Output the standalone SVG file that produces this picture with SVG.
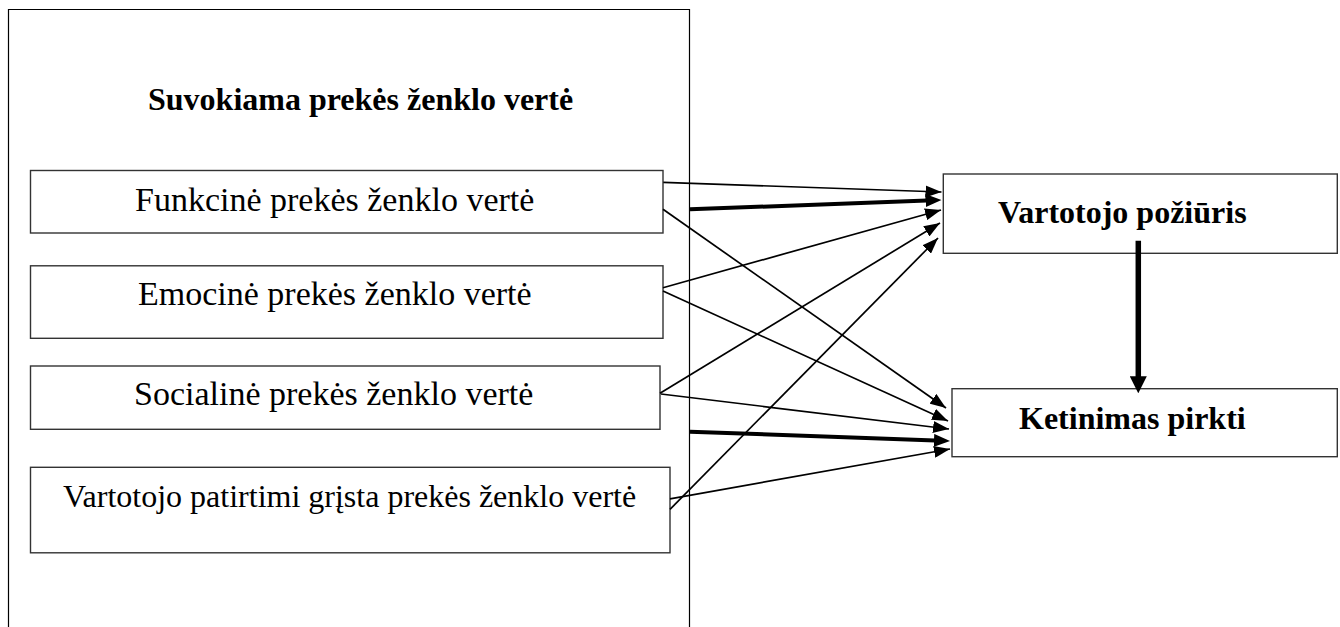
<svg xmlns="http://www.w3.org/2000/svg" width="1340" height="627" viewBox="0 0 1340 627">
  <style>
    .frame { fill: none; stroke: #000; stroke-width: 1.2; }
    .box { fill: #fff; stroke: #333; stroke-width: 1.4; }
    .lbl { font-family: "Liberation Serif", "Times New Roman", serif; font-size: 32px; fill: #000; }
    .big { font-size: 34px; }
    .bold { font-weight: bold; }
    .thin { stroke: #000; stroke-width: 1.7; fill: none; marker-end: url(#head); }
    .thick { stroke: #000; stroke-width: 4; fill: none; marker-end: url(#headThick); }
    .vert { stroke: #000; stroke-width: 5.5; fill: none; marker-end: url(#headVert); }
  </style>
  <defs>
    <marker id="head" markerUnits="userSpaceOnUse" markerWidth="16" markerHeight="12" refX="16" refY="6" orient="auto">
      <path d="M0,0 L16,6 L0,12 z" fill="#000"/>
    </marker>
    <marker id="headThick" markerUnits="userSpaceOnUse" markerWidth="16" markerHeight="13" refX="8" refY="6.5" orient="auto">
      <path d="M0,0 L16,6.5 L0,13 z" fill="#000"/>
    </marker>
    <marker id="headVert" markerUnits="userSpaceOnUse" markerWidth="17" markerHeight="17" refX="8" refY="8.5" orient="auto">
      <path d="M0,0 L17,8.5 L0,17 z" fill="#000"/>
    </marker>
  </defs>
  <rect width="1340" height="627" fill="#fff"/>

  <!-- outer frame: perceived brand value (open at the bottom edge) -->
  <g id="perceived-value">
    <path class="frame" d="M8.5,640 V9.5 H689.5 V640"/>
    <text class="lbl bold" x="148" y="110">Suvokiama prekės ženklo vertė</text>
  </g>

  <g id="functional">
    <rect class="box" x="30.5" y="170.5" width="632.5" height="62.5"/>
    <text class="lbl big" x="135" y="210.5">Funkcinė prekės ženklo vertė</text>
  </g>
  <g id="emotional">
    <rect class="box" x="30.5" y="265.8" width="632.5" height="72.5"/>
    <text class="lbl big" x="138" y="305">Emocinė prekės ženklo vertė</text>
  </g>
  <g id="social">
    <rect class="box" x="30.5" y="366" width="629.5" height="63.3"/>
    <text class="lbl big" x="134" y="405">Socialinė prekės ženklo vertė</text>
  </g>
  <g id="experience">
    <rect class="box" x="30.5" y="467.3" width="639.5" height="85.5"/>
    <text class="lbl" x="63" y="507">Vartotojo patirtimi grįsta prekės ženklo vertė</text>
  </g>

  <g id="attitude">
    <rect class="box" x="943.3" y="174" width="394" height="79.3"/>
    <text class="lbl bold" x="998" y="223.3">Vartotojo požiūris</text>
  </g>
  <g id="intention">
    <rect class="box" x="952" y="388.7" width="385.3" height="68"/>
    <text class="lbl bold" x="1019" y="429.3">Ketinimas pirkti</text>
  </g>

  <g id="connectors">
    <!-- into consumer attitude -->
    <line class="thin" x1="663.3" y1="182.3" x2="941.5" y2="192"/>
    <line class="thick" x1="690" y1="209.3" x2="933.5" y2="200.3"/>
    <line class="thin" x1="663" y1="287.7" x2="941" y2="210"/>
    <line class="thin" x1="660" y1="393.3" x2="940" y2="223"/>
    <line class="thin" x1="670" y1="509.3" x2="938" y2="238"/>
    <!-- into purchase intention -->
    <line class="thin" x1="663" y1="209.3" x2="946" y2="408"/>
    <line class="thin" x1="663" y1="291" x2="948" y2="421"/>
    <line class="thin" x1="661" y1="394" x2="949" y2="429"/>
    <line class="thick" x1="690" y1="431.7" x2="942" y2="440.7"/>
    <line class="thin" x1="670" y1="498.8" x2="950" y2="449"/>
    <!-- attitude to intention -->
    <line class="vert" x1="1138.3" y1="240.7" x2="1138.3" y2="384.3"/>
  </g>
</svg>
